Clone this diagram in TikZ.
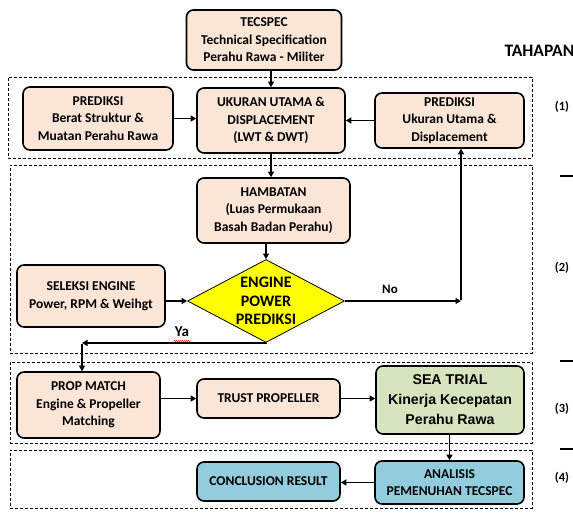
\documentclass[tikz,border=0pt]{standalone}
\usepackage{fontspec}
\setmainfont{Carlito}
\newfontfamily\arialf{Liberation Sans}
\usetikzlibrary{arrows.meta,shapes.geometric,decorations.pathmorphing}
\definecolor{peach}{HTML}{FBE5D6}
\definecolor{sgreen}{HTML}{D7E4BD}
\definecolor{sblue}{HTML}{93CDDD}
\definecolor{dia}{HTML}{FFFF00}
\begin{document}
\begin{tikzpicture}[x=1pt,y=-1pt,
  box/.style={draw, line width=1.6pt, rounded corners=7pt, fill=peach, align=center,
    inner sep=0pt, font=\bfseries\fontsize{13.5}{17.5}\selectfont},
  group/.style={draw, line width=0.8pt, dash pattern=on 3pt off 2pt, inner sep=0pt},
  arr/.style={line width=1.6pt, -{Triangle[length=5.5pt,width=6pt]}},
  side/.style={font=\bfseries\fontsize{12.5}{15}\selectfont}
]
\useasboundingbox (0,0) rectangle (573,513);

% groups
\node[group, minimum width=524pt, minimum height=81pt] (g1) at (270,117.5) {};
\node[group, minimum width=522pt, minimum height=188pt] (g2) at (271,259) {};
\node[group, minimum width=522pt, minimum height=81pt] (g3) at (271,402.5) {};
\node[group, minimum width=522pt, minimum height=58pt] (g4) at (271,479) {};

% boxes
\node[box, minimum width=155pt, minimum height=60pt] (tec) at (264,40) {TECSPEC\\Technical Specification\\Perahu Rawa - Militer};
\node[box, minimum width=150pt, minimum height=63pt] (predL) at (98,118.5) {PREDIKSI\\Berat Struktur \&\\Muatan Perahu Rawa};
\node[box, minimum width=148pt, minimum height=65pt] (ukur) at (271,120.5) {UKURAN UTAMA \&\\DISPLACEMENT\\(LWT \& DWT)};
\node[box, minimum width=149pt, minimum height=55pt] (predR) at (449.5,120.5) {PREDIKSI\\Ukuran Utama \&\\Displacement};
\node[box, minimum width=153pt, minimum height=65pt] (ham) at (273.5,210.5) {HAMBATAN\\(Luas Permukaan\\Basah Badan Perahu)};
\node[box, minimum width=148pt, minimum height=62pt] (sel) at (91,296) {SELEKSI ENGINE\\Power, RPM \& Weihgt};
\node[draw, diamond, fill=dia, line width=0.8pt, minimum width=157pt, minimum height=83pt, inner sep=0pt] (dmd) at (266,301) {};
\node[align=center, font=\bfseries\fontsize{16}{18.5}\selectfont] (dtext) at (dmd) {ENGINE\\POWER\\PREDIKSI};
\node[box, minimum width=143pt, minimum height=66pt] (prop) at (88.5,405) {PROP MATCH\\Engine \& Propeller\\Matching};
\node[box, minimum width=143pt, minimum height=39pt] (trust) at (268.5,398.5) {TRUST PROPELLER};
\node[box, fill=sgreen, minimum width=148pt, minimum height=68pt, font=\arialf\bfseries\fontsize{14.2}{20}\selectfont] (sea) at (450,400) {SEA TRIAL\\Kinerja Kecepatan\\Perahu Rawa};
\node[box, fill=sblue, minimum width=143pt, minimum height=39pt] (conc) at (268.5,481.5) {CONCLUSION RESULT};
\node[box, fill=sblue, minimum width=149pt, minimum height=43pt] (anal) at (449.5,482.5) {ANALISIS\\PEMENUHAN TECSPEC};

\coordinate (nc) at (461,301);
\coordinate (yc) at (82,343);

% connectors
\draw[arr] (ukur.north |- tec.south) -- (ukur.north);
\draw[arr] (predL.east) -- (predL.east -| ukur.west);
\draw[arr] (predR.west) -- (predR.west -| ukur.east);
\draw[arr] (ukur.south) -- (ukur.south |- ham.north);
\draw[arr] (dmd.north |- ham.south) -- (dmd.north);
\draw[arr] (sel.east |- dmd.west) -- (dmd.west);
\draw[arr] (dmd.east) -- (nc);
\draw[arr] ([yshift=1pt]nc) -- (nc |- predR.south);
\draw[arr] (dmd.south) -- (dmd.south |- yc) -- (yc);
\draw[arr] ([yshift=-1pt]yc) -- (yc |- prop.north);
\draw[arr] (prop.east |- trust.west) -- (trust.west);
\draw[arr] (trust.east) -- (trust.east -| sea.west);
\draw[arr] (anal.north |- sea.south) -- (anal.north);
\draw[arr] (anal.west) -- (anal.west -| conc.east);

% labels
\node[font=\bfseries\fontsize{13}{15}\selectfont] (no) at (390,289) {No};
\node[font=\bfseries\fontsize{15}{17}\selectfont] (ya) at (182,332) {Ya};
\draw[red, line width=0.4pt, decorate, decoration={snake, amplitude=0.6pt, segment length=2pt}] (174,341) -- (191,341);

\node[anchor=west, font=\bfseries\fontsize{17.5}{20}\selectfont] (tahapan) at (501,51) {TAHAPAN};
\node[side] (s1) at (562,107) {(1)};
\node[side] (s2) at (562,268) {(2)};
\node[side] (s3) at (562,409) {(3)};
\node[side] (s4) at (562,478) {(4)};
\draw[line width=1.2pt] (560,176) -- (573,176);
\draw[line width=1.2pt] (560,361) -- (573,361);
\draw[line width=1.2pt] (560,449) -- (573,449);
\end{tikzpicture}
\end{document}
